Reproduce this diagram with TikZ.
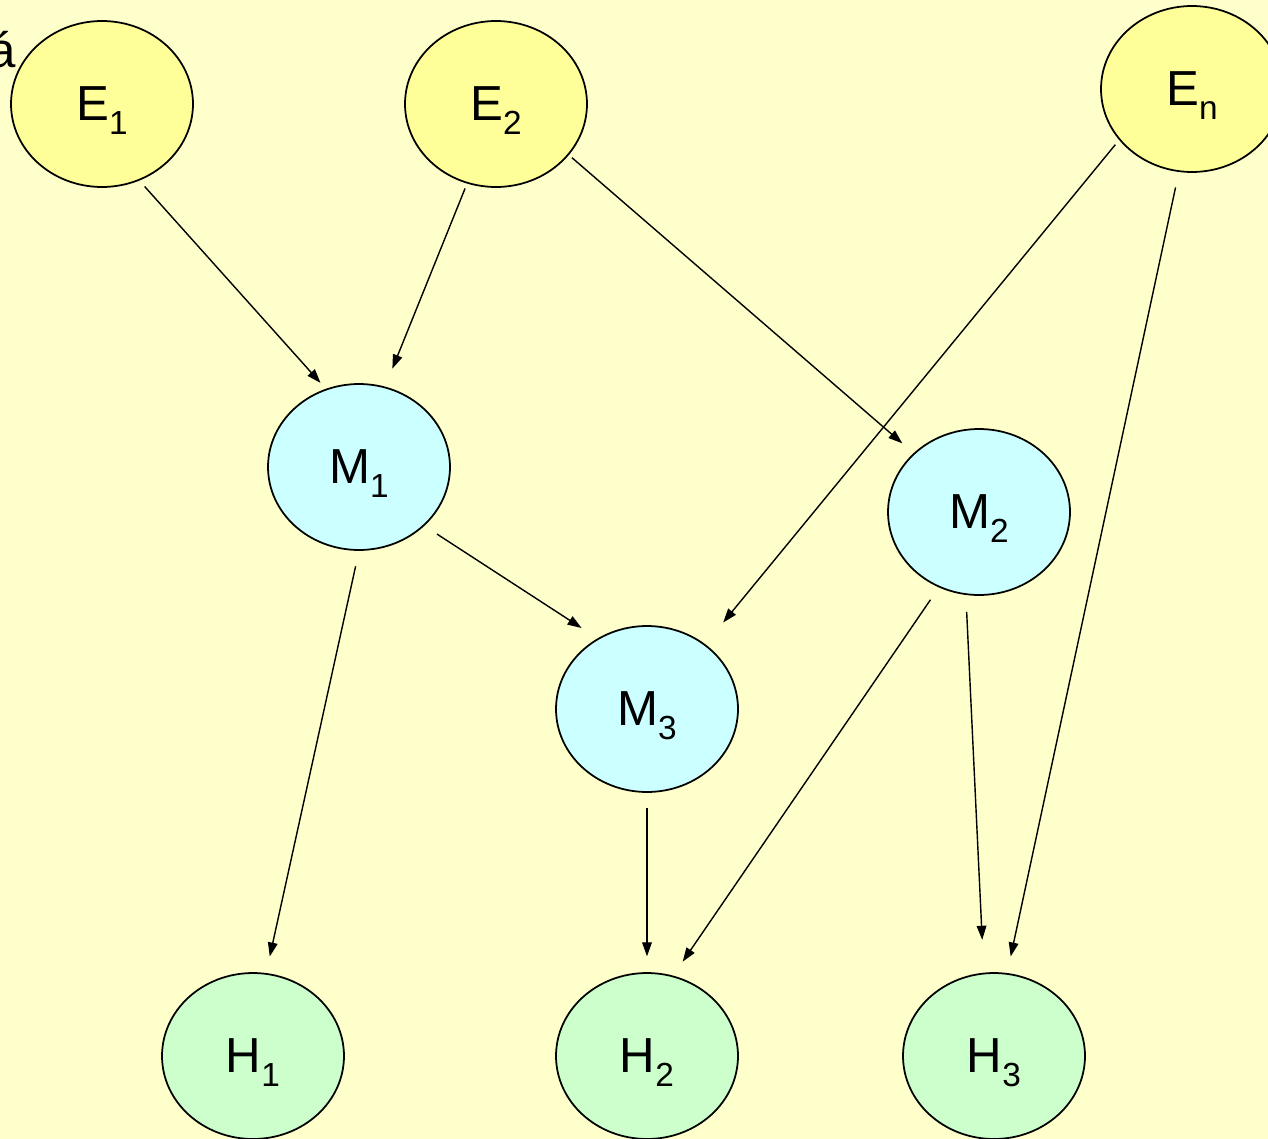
\documentclass[tikz,border=0pt]{standalone}
\usepackage{fontspec}
\setmainfont{Liberation Sans}
\usetikzlibrary{shapes.geometric, arrows.meta}

\definecolor{pagebg}{HTML}{FFFFCC}
\definecolor{evfill}{HTML}{FFFF99}
\definecolor{midfill}{HTML}{CCFFFF}
\definecolor{hypfill}{HTML}{CCFFCC}

\newcommand{\lowidx}[1]{\raisebox{-8pt}[0pt][0pt]{\fontsize{19}{19}\selectfont #1}}

\tikzset{
    vertex/.style={ellipse, draw=black, line width=1pt, inner sep=0pt,
                   minimum width=3.64cm, minimum height=3.32cm,
                   font=\fontsize{28}{32}\selectfont},
    evidence/.style={vertex, fill=evfill},
    middle/.style={vertex, fill=midfill},
    hypo/.style={vertex, fill=hypfill},
    link/.style={-{Triangle[length=8pt, width=5.5pt]}, line width=0.8pt}
}

\begin{document}
\begin{tikzpicture}[x=0.02cm, y=-0.02cm]
    \fill[pagebg] (0,0) rectangle (1268,1139);
    \useasboundingbox (0,0) rectangle (1268,1139);

    % cut-off word at the top left
    \node[anchor=base east, inner sep=0pt, font=\fontsize{28}{32}\selectfont] (cutword) at (16,67) {á};

    \foreach \nm/\x/\y/\kind/\lbl in {E1/102/104/evidence/{E\lowidx{1}},
                                      E2/496/104/evidence/{E\lowidx{2}},
                                      En/1192/89/evidence/{E\lowidx{n}},
                                      M1/359/467/middle/{M\lowidx{1}},
                                      M2/979/512/middle/{M\lowidx{2}},
                                      M3/647/709/middle/{M\lowidx{3}},
                                      H1/253/1056/hypo/{H\lowidx{1}},
                                      H2/647/1056/hypo/{H\lowidx{2}},
                                      H3/994/1056/hypo/{H\lowidx{3}}} {
        \node[\kind] (\nm) at (\x,\y) {\lbl};
    }

    \foreach \a/\sa/\b/\tb/\gs/\ge in {E1/-64/M1/113/4.5pt/4.5pt,
                                       E2/-110/M1/72/3pt/11pt,
                                       E2/-35/M2/138/2.3pt/8.5pt,
                                       En/-145/M3/48/3.4pt/16pt,
                                       En/-99/H3/81/9pt/9.6pt,
                                       M1/-42/M3/125/8.5pt/10.8pt,
                                       M1/-90/H1/81/9pt/9.6pt,
                                       M2/-118/H2/72/8.5pt/9.6pt,
                                       M2/-99/H3/97/9.6pt/18.7pt,
                                       M3/-90/H2/90/8.5pt/9pt} {
        \draw[link, shorten <=\gs, shorten >=\ge] (\a.\sa) -- (\b.\tb);
    }
\end{tikzpicture}
\end{document}
